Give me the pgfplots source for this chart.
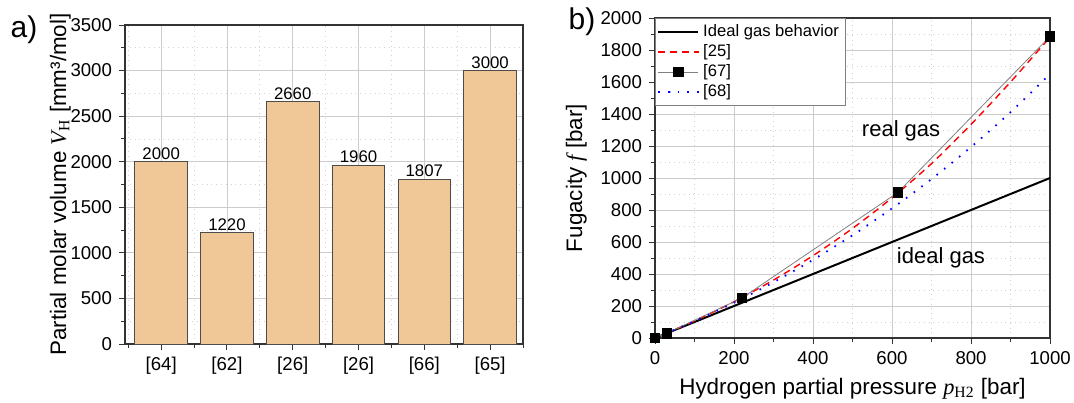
\documentclass[border=0pt]{standalone}
\usepackage{fontspec}
\setmainfont{Liberation Sans}
\newfontfamily\serif{Liberation Serif}
\usepackage{pgfplots}
\pgfplotsset{compat=1.18}
\definecolor{barfill}{RGB}{240,199,150}
\begin{document}
\begin{tikzpicture}
\useasboundingbox (0,0) rectangle (537pt,201pt);
\pgfplotsset{
 every axis/.append style={
  scale only axis,
  /pgf/number format/assume math mode=true,
  /pgf/number format/1000 sep={},
  tick label style={font=\fontsize{9.3}{10}\selectfont},
  label style={font=\fontsize{11.2}{13}\selectfont},
  tick align=outside, xtick pos=bottom, ytick pos=left,
  major tick length=3pt, minor tick length=1.8pt,
  grid=both,
  major grid style={gray!40, line width=0.4pt},
  minor grid style={gray!35, dotted, line width=0.4pt},
  axis line style={line width=0.6pt, black!80},
  tick style={black!80, line width=0.5pt},
 }
}
\begin{axis}[at={(62.5pt,29pt)}, anchor=south west, width=199pt, height=159.5pt,
 xmin=-0.55, xmax=5.5, ymin=0, ymax=3500,
 xtick={0,...,5}, xticklabels={{[64]},{[62]},{[26]},{[26]},{[66]},{[65]}},
 minor xtick={-0.5,0.5,...,5.5},
 ytick={0,500,...,3500}, minor ytick={250,750,...,3250},
 ylabel={Partial molar volume {\serif\itshape V}\textsubscript{\serif H} [mm³/mol]},
 ylabel shift=-7pt,
 ybar, bar width=0.8,
 nodes near coords, nodes near coords style={font=\fontsize{8.4}{9}\selectfont, inner sep=1pt},
]
\addplot[fill=barfill, draw=black!70, line width=0.4pt] coordinates {(0,2000) (1,1220) (2,2660) (3,1960) (4,1807) (5,3000)};
\end{axis}
\begin{axis}[at={(327.5pt,32pt)}, anchor=south west, width=197.5pt, height=160pt,
 xmin=0, xmax=1000, ymin=0, ymax=2000,
 xtick={0,200,...,1000}, ytick={0,200,...,2000}, minor x tick num=1, minor y tick num=1,
 xlabel={Hydrogen partial pressure {\serif\itshape p}\textsubscript{\serif H2} [bar]},
 ylabel={Fugacity {\serif\itshape f} [bar]},
 legend style={at={(0,1)}, anchor=north west, font=\fontsize{8.3}{9}\selectfont, draw=gray, line width=0.4pt, inner sep=1pt, row sep=-1.5pt},
 legend cell align=left,
 legend image code/.code={\draw[mark repeat=2,mark phase=2,#1] plot coordinates {(0cm,0cm) (0.35cm,0cm) (0.7cm,0cm)};},
]
\addplot[black, line width=1pt] coordinates {(0,0) (1000,1000)};
\addlegendentry{Ideal gas behavior}
\addplot[red, line width=0.7pt, dash pattern=on 3.5pt off 2.5pt, smooth] coordinates {(0,0) (100,106.5) (200,226.9) (300,362.4) (400,514.6) (500,685.1) (600,876) (700,1090) (800,1335) (900,1600) (1000,1880)};
\addlegendentry{[25]}
\addplot[gray, line width=0.4pt, mark=square*, mark options={fill=black, draw=black, solid}, mark size=2.4pt] coordinates {(0,0) (30,30) (220,250) (615,910) (1000,1885)};
\addlegendentry{[67]}
\addplot[blue, line width=0.9pt, dash pattern=on 0.8pt off 4pt, smooth] coordinates {(0,0) (100,105.1) (200,221) (300,348.6) (400,488.6) (500,642) (600,809.9) (700,993.4) (800,1193.5) (900,1411.5) (1000,1650)};
\addlegendentry{[68]}
\node[font=\fontsize{11}{13}\selectfont] at (axis cs:623,1294) {real gas};
\node[font=\fontsize{11}{13}\selectfont] at (axis cs:724,500) {ideal gas};
\end{axis}
\node[font=\fontsize{15}{18}\selectfont] at (12pt,186pt) {a)};
\node[font=\fontsize{15}{18}\selectfont] at (291pt,190pt) {b)};
\end{tikzpicture}
\end{document}
